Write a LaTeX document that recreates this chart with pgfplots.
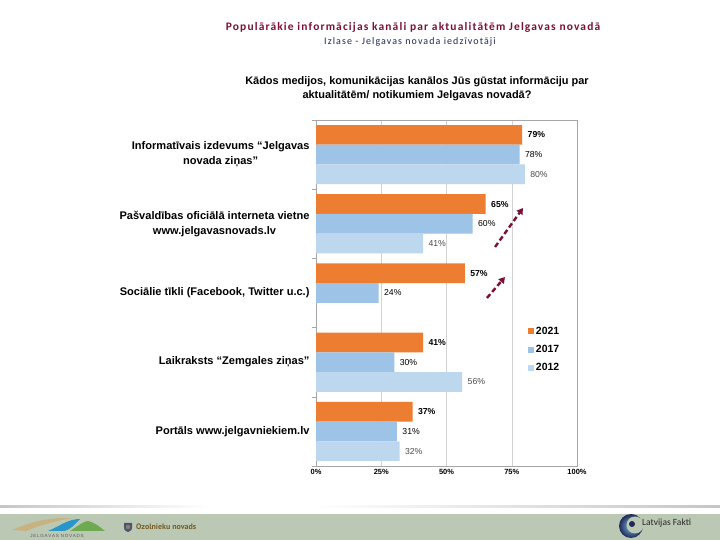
\documentclass[border=0pt]{standalone}
\usepackage{pgfplots}
\pgfplotsset{compat=1.18}
\usepackage{fontspec}
\setmainfont{Liberation Sans}
\newfontfamily\carlito{Carlito}
\newfontfamily\carlitoT[LetterSpace=10]{Carlito}
\newfontfamily\carlitoS[LetterSpace=11]{Carlito}
\newfontfamily\ptsans{PT Sans}
\usetikzlibrary{arrows.meta}
\definecolor{c2021}{RGB}{237,125,49}
\definecolor{c2017}{RGB}{157,195,230}
\definecolor{c2012}{RGB}{189,215,238}
\definecolor{maroon}{RGB}{122,16,56}
\definecolor{navyt}{RGB}{31,40,90}
\definecolor{band}{RGB}{187,201,180}
\definecolor{logotan}{RGB}{200,178,128}
\definecolor{logoblue}{RGB}{40,150,200}
\definecolor{logogreen}{RGB}{110,170,80}
\definecolor{ozol}{RGB}{120,95,40}
\begin{document}
\begin{tikzpicture}[x=1bp,y=1bp]
\useasboundingbox (0,0) rectangle (720,540);
\fill[white] (0,0) rectangle (720,540);
% titles
\node[font=\carlitoT\bfseries\fontsize{11.5}{13}\selectfont, text=maroon] at (413,513) {Populārākie informācijas kanāli par aktualitātēm Jelgavas novadā};
\node[font=\carlitoS\fontsize{10}{11}\selectfont, text=navyt] at (410,498) {Izlase - Jelgavas novada iedzīvotāji};
\node[font=\bfseries\fontsize{11}{14}\selectfont, align=center] at (417,451) {Kādos medijos, komunikācijas kanālos Jūs gūstat informāciju par\\aktualitātēm/ notikumiem Jelgavas novadā?};
% footer
\shade[left color=gray!45, right color=white] (0,32) rectangle (210,34.5);
\shade[left color=white, right color=gray!45] (310,32) rectangle (720,34.5);
\fill[band] (0,0) rectangle (720,26);
\fill[logotan] (12,10) .. controls (30,18) and (50,23) .. (72,22) .. controls (55,19) and (38,14) .. (26,9) -- cycle;
\fill[logoblue] (48,9) .. controls (60,14) and (68,21) .. (80,21) .. controls (75,16) and (72,11) .. (64,9) -- cycle;
\fill[logogreen] (70,9) .. controls (78,14) and (84,19) .. (88,19) .. controls (96,17) and (101,12) .. (105,9) -- cycle;
\node[font=\fontsize{4.5}{5}\selectfont, text=gray!70!black] at (57,4.5) {J\,E\,L\,G\,A\,V\,A\,S\enspace N\,O\,V\,A\,D\,S};
\fill[navyt!80] (124,17) -- (132,17) -- (132,12) .. controls (132,9) and (128,8) .. (128,8) .. controls (128,8) and (124,9) .. (124,12) -- cycle;
\fill[ozol!80] (128,13) circle (2.2);
\node[anchor=west, font=\ptsans\bfseries\fontsize{8}{9}\selectfont, text=ozol, inner sep=0] at (136,13) {Ozolnieku novads};
\shade[inner color=logoblue!60, outer color=navyt] (631,14) circle (12);
\fill[band] (635,15) circle (8.5);
\fill[navyt] (632,16) circle (3);
\node[anchor=west, font=\carlito\fontsize{9.5}{10}\selectfont, text=black!85, inner sep=0] at (642,17) {Latvijas Fakti};
% chart
\begin{axis}[
  at={(316bp,74bp)}, anchor=south west,
  width=261bp, height=346bp, scale only axis,
  xbar, xmin=0, xmax=100, ymin=-0.5, ymax=4.5,
  bar width=0.285,
  axis line style={draw=gray!70},
  xtick={0,25,50,75,100}, xticklabels={0\%,25\%,50\%,75\%,100\%},
  xticklabel style={font=\bfseries\fontsize{7.5}{9}\selectfont},
  xmajorgrids, grid style={draw=gray!35},
  ytick={0,1,2,3,4},
  yticklabels={{Portāls www.jelgavniekiem.lv},{Laikraksts “Zemgales ziņas”},{Sociālie tīkli (Facebook, Twitter u.c.)},{Pašvaldības oficiālā interneta vietne\\www.jelgavasnovads.lv},{Informatīvais izdevums “Jelgavas\\novada ziņas”}},
  yticklabel style={align=center, font=\bfseries\fontsize{11.1}{15}\selectfont, xshift=-3bp},
  minor ytick={-0.5,0.5,1.5,2.5,3.5,4.5},
  tick pos=left,
  major tick length=0pt, minor tick length=4bp, tick align=outside,
  tick style={draw=gray!70},
  /pgf/number format/assume math mode=true,
  nodes near coords={\pgfmathprintnumber{\pgfplotspointmeta}\%},
  nodes near coords align={horizontal},
  every node near coord/.append style={xshift=2bp},
  legend style={at={(axis cs:80,1.57)}, anchor=north west, draw=none, fill=none,
    font=\bfseries\fontsize{10.5}{12}\selectfont, row sep=5.5bp},
  legend cell align=left,
  legend image code/.code={\fill[#1] (0bp,-3bp) rectangle (6bp,3bp);},
]
\addplot[fill=c2021, draw=none, bar shift=0.285,
  every node near coord/.append style={font=\bfseries\fontsize{8.7}{10}\selectfont}]
  coordinates {(37,0) (41,1) (57,2) (65,3) (79,4)};
\addplot[fill=c2017, draw=none, bar shift=0,
  every node near coord/.append style={font=\fontsize{8.7}{10}\selectfont}]
  coordinates {(31,0) (30,1) (24,2) (60,3) (78,4)};
\addplot[fill=c2012, draw=none, bar shift=-0.285,
  every node near coord/.append style={font=\fontsize{8.7}{10}\selectfont, text=black!70}]
  coordinates {(32,0) (56,1) (41,3) (80,4)};
\legend{2021,2017,2012}
\draw[maroon, line width=2.4bp, dash pattern=on 5bp off 3bp, -{Triangle[length=6bp,width=7bp]}] (axis cs:68.6,2.665) -- (axis cs:79.3,3.228);
\draw[maroon, line width=2.4bp, dash pattern=on 5bp off 3bp, -{Triangle[length=6bp,width=7bp]}] (axis cs:65.5,1.928) -- (axis cs:72.4,2.231);
\end{axis}
\end{tikzpicture}
\end{document}
